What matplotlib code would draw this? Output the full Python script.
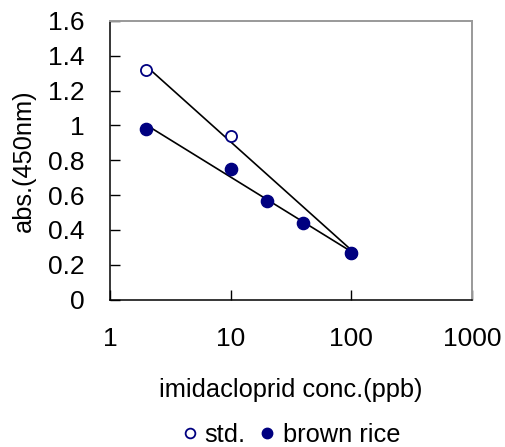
import matplotlib.pyplot as plt
import numpy as np
from matplotlib.lines import Line2D

plt.rcParams['font.family'] = ['Liberation Sans', 'DejaVu Sans']

# data
std_conc = [2, 10, 100]
std_abs = [1.32, 0.94, 0.27]

rice_conc = [2, 10, 20, 40, 100]
rice_abs = [0.98, 0.75, 0.566, 0.44, 0.265]

xticks = [1, 10, 100, 1000]
xticklabels = ['1', '10', '100', '1000']
yticks = [0, 0.2, 0.4, 0.6, 0.8, 1.0, 1.2, 1.4, 1.6]
yticklabels = ['0', '0.2', '0.4', '0.6', '0.8', '1', '1.2', '1.4', '1.6']

navy = '#000080'
fs = 19
lfs = 18.3

fig = plt.figure(figsize=(5.06, 4.47), dpi=100)
ax = fig.add_axes([110 / 506, 147.5 / 447, 362 / 506, 278.5 / 447])

# logarithmic trendlines (y = a*log(x) + b), fitted to the points
for conc, absv in [(std_conc, std_abs), (rice_conc, rice_abs)]:
    a, b = np.polyfit(np.log10(conc), absv, 1)
    xs = np.logspace(np.log10(min(conc)), np.log10(max(conc)), 100)
    ax.plot(xs, a * np.log10(xs) + b, color='black', lw=1.2, zorder=2)

ax.plot(std_conc, std_abs, 'o', mfc='white', mec=navy, mew=1.3, ms=8.0, zorder=3)
ax.plot(rice_conc, rice_abs, 'o', color=navy, ms=8.8, zorder=4)

ax.set_xscale('log')
ax.set_xlim(1, 1000)
ax.set_ylim(0, 1.6)
ax.set_xticks(xticks)
ax.set_xticklabels(xticklabels)
ax.set_yticks(yticks)
ax.set_yticklabels(yticklabels)
ax.minorticks_off()
ax.tick_params(axis='both', direction='in', length=7, width=1.0, labelsize=fs, color='black')
ax.tick_params(axis='y', pad=18)
ax.tick_params(axis='x', pad=20)

for s in ['top', 'right']:
    ax.spines[s].set_color('#999999')
    ax.spines[s].set_linewidth(1.4)
for s in ['left', 'bottom']:
    ax.spines[s].set_color('black')
    ax.spines[s].set_linewidth(1.1)

ax.set_xlabel('imidacloprid conc.(ppb)', fontsize=lfs, labelpad=19)
ax.set_ylabel('abs.(450nm)', fontsize=lfs, labelpad=9)

handles = [
    Line2D([], [], ls='none', marker='o', mfc='white', mec=navy, mew=1.3, ms=7),
    Line2D([], [], ls='none', marker='o', color=navy, ms=7.5),
]
ax.legend(handles, ['std.', 'brown rice'], loc='lower center',
          bbox_to_anchor=(0.5, -0.528), bbox_transform=ax.transAxes,
          ncol=2, frameon=False, fontsize=lfs, handlelength=0.6, handletextpad=0.3,
          columnspacing=0.55, borderpad=0, borderaxespad=0)

fig.savefig('out.png', dpi=100)
